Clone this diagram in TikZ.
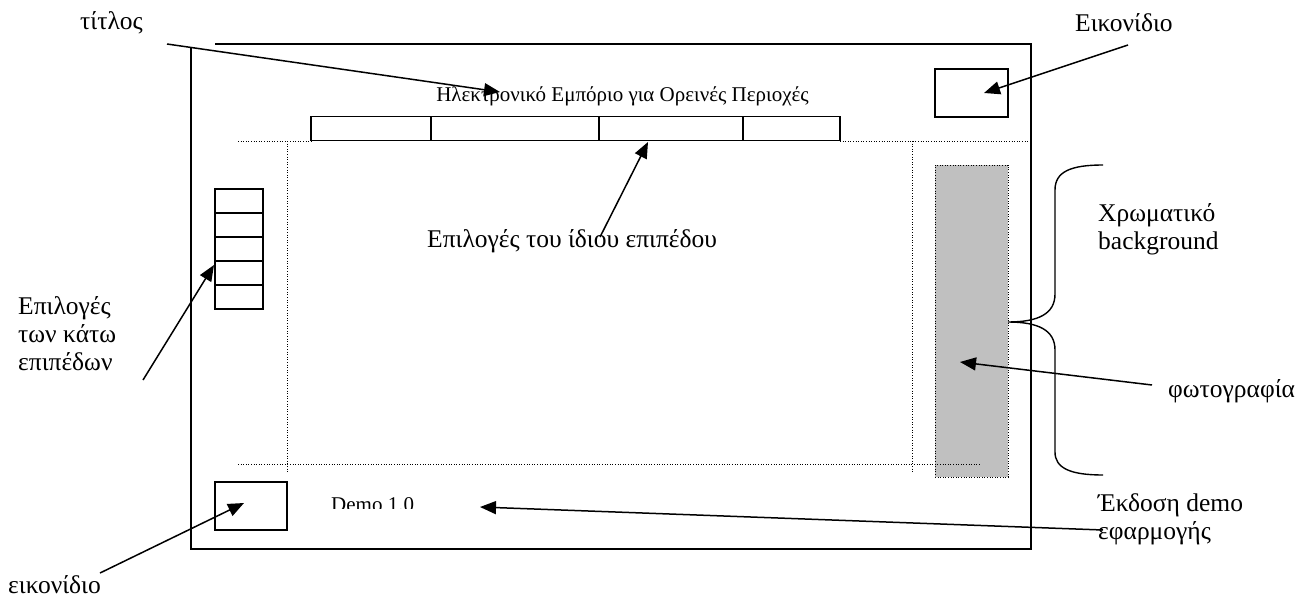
\documentclass[tikz,border=0pt]{standalone}
\usepackage{fontspec}
\setmainfont{Liberation Serif}
\usetikzlibrary{arrows.meta}
\definecolor{photogray}{HTML}{C0C0C0}
\begin{document}
\begin{tikzpicture}[x=1pt,y=-1pt,
  solid line/.style={line width=1.4pt},
  cell/.style={draw,line width=1.4pt,inner sep=0pt,outer sep=0pt},
  guide/.style={line width=1pt,dash pattern=on 1pt off 1.6pt},
  pointer/.style={line width=1.5pt,-{Triangle[length=16pt,width=13pt]}},
  label/.style={inner sep=0pt,anchor=base west,font=\fontsize{25.5}{28}\selectfont},
  small/.style={inner sep=0pt,font=\fontsize{21}{24}\selectfont}]
\useasboundingbox (0,0) rectangle (1311,602);

% screen frame (top edge begins a little right of the left edge)
\draw[solid line] (215,44) -- (1031,44) -- (1031,549) -- (191,549) -- (191,47);

% photo strip
\node[fill=photogray,draw,guide,inner sep=0pt,minimum width=73pt,minimum height=312pt] (photo) at (971.5,321) {};

% dotted layout guides
\draw[guide] (238,141) -- (311,141);
\draw[guide] (840,141) -- (1029,141);
\draw[guide] (287,141) -- (287,473);
\draw[guide] (912,141) -- (912,473);
\draw[guide] (238,464) -- (980,464);

% title
\node[small,anchor=base] (title) at (622.5,101.5) {Ηλεκτρονικό Εμπόριο για Ορεινές Περιοχές};

% icons
\node[cell,minimum width=73pt,minimum height=48pt] (iconTR) at (971.5,93) {};
\node[cell,minimum width=72pt,minimum height=48pt] (iconBL) at (251,506) {};

% menu bar of the same level
\node[cell,minimum width=120pt,minimum height=24pt] (m1) at (371,128.5) {};
\node[cell,minimum width=168pt,minimum height=24pt] (m2) at (515,128.5) {};
\node[cell,minimum width=144pt,minimum height=24pt] (m3) at (671,128.5) {};
\node[cell,minimum width=97pt,minimum height=24pt] (m4) at (791.5,128.5) {};

% column of lower-level options
\foreach \i in {0,...,4}{
  \node[cell,minimum width=48pt,minimum height=24pt] (c\i) at (239,{201+24*\i}) {};
}

% version text, cut off at the bottom
\begin{scope}
  \clip (300,480) rectangle (460,508);
  \node[small,anchor=base west] (demo) at (331,511) {Demo 1.0};
\end{scope}

% brace for the coloured background
\draw[line width=1.4pt] (1103,165) .. controls (1070,165) and (1055,172) .. (1055,190)
  -- (1055,294) .. controls (1055,314) and (1038,322) .. (1008,322)
  .. controls (1038,322) and (1055,330) .. (1055,350)
  -- (1055,452) .. controls (1055,468) and (1070,475) .. (1103,475);

% labels
\node[label] (lTitle) at (80,30) {τίτλος};
\node[label] (lIcon) at (1075,32) {Εικονίδιο};
\node[label] (lSame) at (427,247) {Επιλογές του ίδιου επιπέδου};
\node[label,align=left,anchor=north west] (lLower) at (18,296) {Επιλογές\\των κάτω\\επιπέδων};
\node[label,align=left,anchor=north west] (lColour) at (1098,203) {Χρωματικό\\background};
\node[label] (lPhoto) at (1168,397) {φωτογραφία};
\node[label,align=left,anchor=north west] (lVersion) at (1098,493) {Έκδοση demo\\εφαρμογής};
\node[label] (lIconBL) at (8,593) {εικονίδιο};

% pointer ends
\coordinate (sTitle) at (167,44);
\coordinate (tTitle) at (500,92);
\coordinate (sIcon) at (1128,45);
\coordinate (tIcon) at (984,93);
\coordinate (sSame) at (600,237);
\coordinate (tSame) at (648,142);
\coordinate (sLower) at (143,380);
\coordinate (tLower) at (214,265);
\coordinate (sPhoto) at (1152,385);
\coordinate (tPhoto) at (960,362);
\coordinate (sVersion) at (1103,530);
\coordinate (tVersion) at (480,507);
\coordinate (sIconBL) at (100,573);
\coordinate (tIconBL) at (244,503);

\draw[pointer] (sTitle) -- (tTitle);
\draw[pointer] (sIcon) -- (tIcon);
\draw[pointer] (sSame) -- (tSame);
\draw[pointer] (sLower) -- (tLower);
\draw[pointer] (sPhoto) -- (tPhoto);
\draw[pointer] (sVersion) -- (tVersion);
\draw[pointer] (sIconBL) -- (tIconBL);
\end{tikzpicture}
\end{document}
